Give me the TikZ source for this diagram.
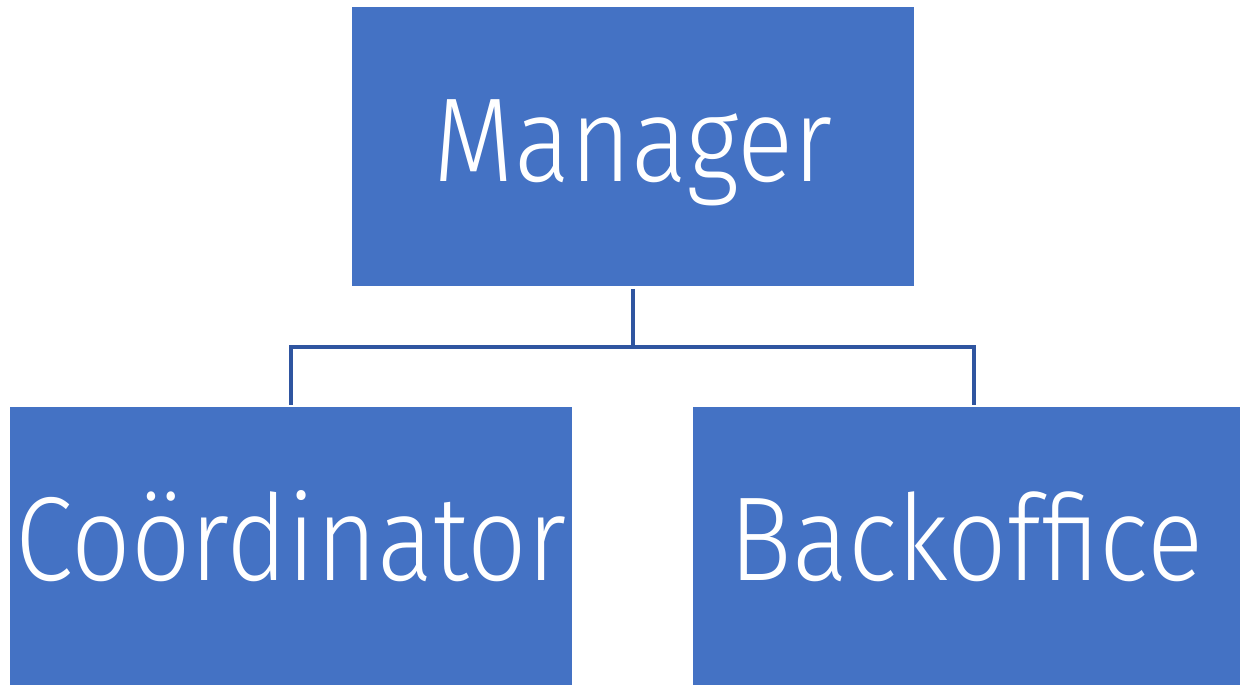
\documentclass[tikz,border=0pt]{standalone}
\usepackage{fontspec}
\setmainfont{Fira Sans}[UprightFont=* Light,FakeStretch=0.875]
\usetikzlibrary{positioning}
\definecolor{boxblue}{HTML}{4472C4}
\definecolor{lineblue}{HTML}{2F55A0}

\begin{document}
\begin{tikzpicture}[
% Box style
box/.style={rectangle,fill=boxblue,text=white,inner sep=0pt,outer sep=0pt,
	anchor=north west,minimum height=2.79cm,text height=8mm,text depth=1mm,
	font=\fontsize{34}{34}\selectfont},
% Connector style
conn/.style={draw=lineblue,line width=0.35mm},
]
\useasboundingbox (0,0) rectangle (12.4,-6.85);
%% Draw boxes
\node (man) [box,minimum width=5.62cm] at (3.52,-0.07) {Manager};
\node (coo) [box,minimum width=5.62cm,minimum height=2.78cm] at (0.10,-4.07) {Coördinator};
\node (back) [box,minimum width=5.47cm,minimum height=2.78cm] at (6.93,-4.07) {Backoffice};
%% Draw connectors
\coordinate (j) at ([yshift=-0.61cm]man.south);
\draw[conn] ([yshift=-0.03cm]man.south) -- (j);
\draw[conn] (j) -| ([yshift=0.02cm]coo.north);
\draw[conn] (j) -| ([xshift=0.075cm,yshift=0.02cm]back.north);
\end{tikzpicture}
\end{document}
